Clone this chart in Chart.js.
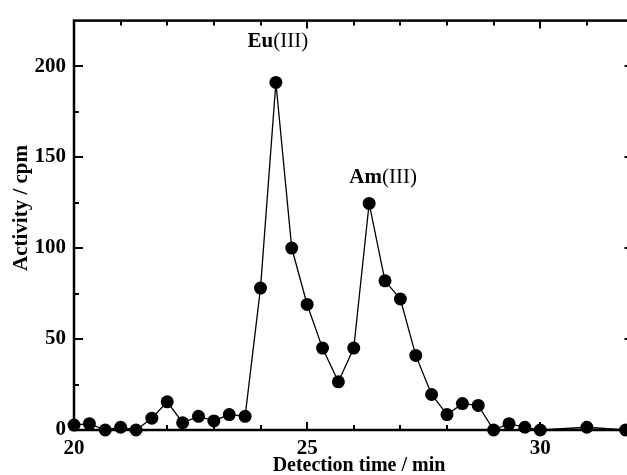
<!DOCTYPE html>
<html>
<head>
<meta charset="utf-8">
<script src="https://cdn.jsdelivr.net/npm/chart.js@4/dist/chart.umd.min.js"></script>
<style>
  html, body { margin: 0; padding: 0; background: #fff; overflow: hidden; width: 627px; height: 475px; }
  canvas { display: block; }
</style>
</head>
<body>
<canvas id="chart" width="640" height="475"></canvas>
<script>
// elution profile, one fraction every 20 s
const times = [
  20.0, 20.33, 20.67, 21.0, 21.33, 21.67, 22.0, 22.33, 22.67, 23.0, 23.33,
  23.67, 24.0, 24.33, 24.67, 25.0, 25.33, 25.67, 26.0, 26.33, 26.67, 27.0,
  27.33, 27.67, 28.0, 28.33, 28.67, 29.0, 29.33, 29.67, 30.0, 31.0, 31.83,
];
const activity = [
  2.7, 3.5, 0, 1.5, 0, 6.5, 15.5, 4, 7.5, 5, 8.5,
  7.5, 78, 191, 100, 69, 45, 26.5, 45, 124.5, 82, 72,
  41, 19.5, 8.5, 14.5, 13.5, 0, 3.5, 1.5, 0, 1.5, 0,
];
const xTicks = [20, 25, 30];
const yTicks = [0, 50, 100, 150, 200];
const xTitle = "Detection time / min";
const yTitle = "Activity / cpm";
// peak names: bold element symbol, regular oxidation state
const peakIndex = [13, 19];
const peakSymbol = ["Eu", "Am"];
const peakState = ["(III)", "(III)"];

const SERIF = "'Liberation Serif', 'Times New Roman', serif";

// box frame with inward ticks on all four sides
const framePlugin = {
  id: "frame",
  beforeDatasetsDraw(chart) {
    const { ctx, chartArea: a, scales: { x, y } } = chart;
    ctx.save();
    ctx.strokeStyle = "#000";
    ctx.lineWidth = 2.5;
    ctx.strokeRect(a.left, a.top, a.right - a.left, a.bottom - a.top);
    ctx.lineWidth = 2;
    ctx.beginPath();
    for (let v = 20; v <= 32; v += 1) {
      const px = Math.round(x.getPixelForValue(v));
      const len = xTicks.includes(v) ? 8 : 5;
      ctx.moveTo(px, a.bottom);
      ctx.lineTo(px, a.bottom - len);
      ctx.moveTo(px, a.top);
      ctx.lineTo(px, a.top + len);
    }
    for (let v = 0; v <= 200; v += 25) {
      const py = Math.round(y.getPixelForValue(v));
      const len = yTicks.includes(v) ? 9 : 5;
      ctx.moveTo(a.left, py);
      ctx.lineTo(a.left + len, py);
      ctx.moveTo(a.right, py);
      ctx.lineTo(a.right - len, py);
    }
    ctx.stroke();

    // axis titles
    ctx.fillStyle = "#000";
    ctx.textAlign = "center";
    ctx.textBaseline = "alphabetic";
    ctx.font = `bold 20px ${SERIF}`;
    ctx.fillText(xTitle, a.left + 285, 471);
    ctx.translate(27, 208);
    ctx.rotate(-Math.PI / 2);
    ctx.font = `bold 21px ${SERIF}`;
    ctx.fillText(yTitle, 0, 0);
    ctx.restore();
  },
};

const peakLabelPlugin = {
  id: "peakLabels",
  afterDatasetsDraw(chart) {
    const { ctx, scales: { x, y } } = chart;
    const offsets = [[2, -41], [14, -26]];
    ctx.save();
    ctx.fillStyle = "#000";
    ctx.textBaseline = "middle";
    peakIndex.forEach((idx, i) => {
      const cx = x.getPixelForValue(times[idx]) + offsets[i][0];
      const cy = y.getPixelForValue(activity[idx]) + offsets[i][1];
      ctx.font = `bold 21px ${SERIF}`;
      const w1 = ctx.measureText(peakSymbol[i]).width;
      ctx.font = `21px ${SERIF}`;
      const w2 = ctx.measureText(peakState[i]).width;
      const left = cx - (w1 + w2) / 2;
      ctx.font = `bold 21px ${SERIF}`;
      ctx.fillText(peakSymbol[i], left, cy);
      ctx.font = `21px ${SERIF}`;
      ctx.fillText(peakState[i], left + w1, cy);
    });
    ctx.restore();
  },
};

new Chart(document.getElementById("chart"), {
  type: "line",
  data: {
    datasets: [
      {
        data: times.map((t, i) => ({ x: t, y: activity[i] })),
        borderColor: "#000",
        borderWidth: 1.3,
        pointRadius: 6.5,
        pointBackgroundColor: "#000",
        pointBorderColor: "#000",
        pointBorderWidth: 0,
        tension: 0,
        clip: false,
      },
    ],
  },
  options: {
    responsive: false,
    animation: false,
    devicePixelRatio: 1,
    layout: { padding: { top: 14, right: 6, left: 0, bottom: 0 } },
    plugins: { legend: { display: false }, tooltip: { enabled: false } },
    scales: {
      x: {
        type: "linear",
        min: 20,
        max: 32,
        grid: { display: false, drawTicks: false },
        border: { display: false },
        afterBuildTicks: (s) => { s.ticks = xTicks.map((v) => ({ value: v })); },
        afterFit: (s) => { s.height = 45; },
        ticks: {
          color: "#000",
          padding: 6,
          maxRotation: 0,
          font: { family: SERIF, size: 21, weight: "bold" },
        },
      },
      y: {
        type: "linear",
        min: 0,
        max: 225,
        grid: { display: false, drawTicks: false },
        border: { display: false },
        afterBuildTicks: (s) => { s.ticks = yTicks.map((v) => ({ value: v })); },
        afterFit: (s) => { s.width = 74; },
        ticks: {
          color: "#000",
          padding: 8,
          font: { family: SERIF, size: 21, weight: "bold" },
        },
      },
    },
  },
  plugins: [framePlugin, peakLabelPlugin],
});
</script>
</body>
</html>
